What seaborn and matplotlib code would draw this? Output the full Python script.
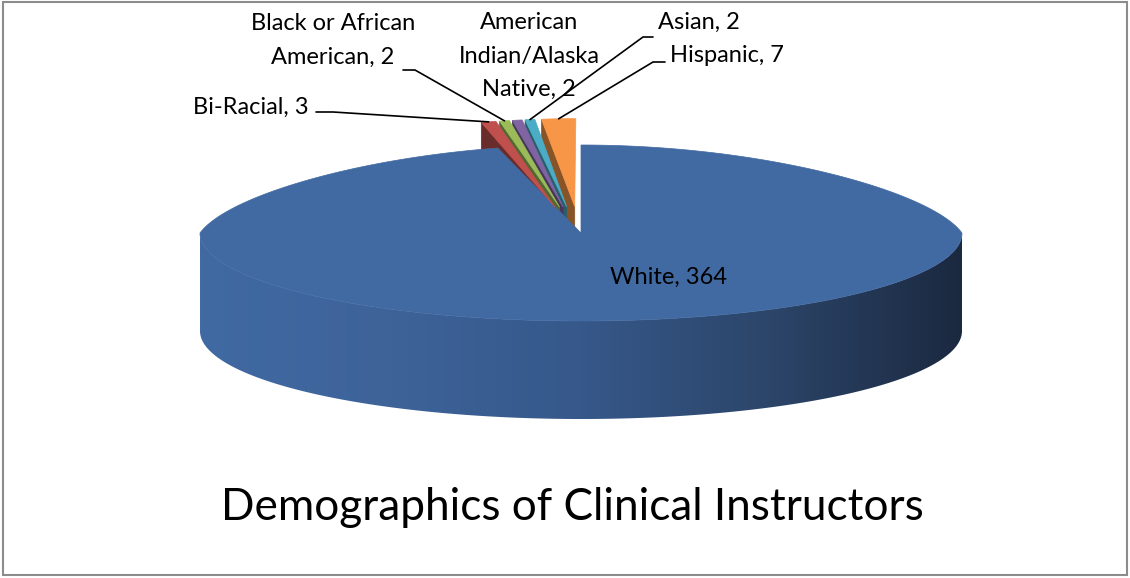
import numpy as np
import matplotlib.pyplot as plt
from matplotlib.patches import Polygon, Rectangle
from matplotlib.colors import to_rgb, ListedColormap
import seaborn as sns

sns.set_style("white")
plt.rcParams['font.family'] = ['Lato', 'DejaVu Sans']

# Data (Excel order: clockwise from 12 o'clock)
groups = ["White", "Bi-Racial", "Black or African\nAmerican",
          "American\nIndian/Alaska\nNative", "Asian", "Hispanic"]
counts = [364, 3, 2, 2, 2, 7]
colors = ["#4169a2", "#c0504d", "#9bbb59", "#8064a2", "#4bacc6", "#f79646"]
explode = [0, 0.3, 0.3, 0.3, 0.3, 0.3]
title = "Demographics of Clinical Instructors"

# Layout of the 3D pie (pixels)
cx, cy = 581, 233      # centre of top face
ra, rb = 381, 88       # ellipse semi-axes
depth = 98             # height of the side wall
persp = 0.17           # back half of the pie is drawn narrower

# label anchors: (x, y, ha) and leader polyline start (stub)
label_pos = [(669, 277, "center"), (309, 107, "right"), (333, 40, "center"),
             (529, 56, "center"), (699, 22, "center"), (727, 55, "center")]
stubs = [None, [(316, 112), (333, 112)], [(403, 70), (415, 70)], None,
         [(653, 37), (643, 37)], [(665, 62), (653, 62)]]

wall_pal = sns.blend_palette(["#4169a2", "#3d6399", "#36588a", "#2c4569", "#1b2940"], 256)


def proj(x, y, z=0.0):
    return cx + ra * x * (1 - persp * max(y, 0)), cy - rb * y + depth * z


def darker(c, f=0.6):
    return tuple(v * f for v in to_rgb(c))


fig = plt.figure(figsize=(11.3, 5.78), dpi=100)
ax = fig.add_axes([0, 0, 1, 1])
ax.set_xlim(0, 1130)
ax.set_ylim(578, 0)
ax.axis("off")

total = sum(counts)
cum = np.concatenate([[0], np.cumsum(counts)]) / total * 360
walls = []
tops = []
mids = []
for i, (n, c) in enumerate(zip(counts, colors)):
    # math angles (ccw); slices go clockwise from 90 deg
    t1 = np.radians(90 - cum[i + 1])
    t2 = np.radians(90 - cum[i])
    tm = (t1 + t2) / 2
    ox, oy = explode[i] * np.cos(tm), explode[i] * np.sin(tm)
    ts = np.linspace(t1, t2, max(int(np.degrees(t2 - t1)) * 2, 6))
    arc = [(ox + np.cos(t), oy + np.sin(t)) for t in ts]
    tops.append(Polygon([proj(ox, oy)] + [proj(*p) for p in arc], closed=True,
                        facecolor=c, edgecolor=c, lw=0.5, zorder=3))
    mids.append(proj(ox + np.cos(tm), oy + np.sin(tm)))

    # outer wall, front half only
    front = [t for t in ts if np.sin(t) <= 1e-9]
    if len(front) > 1:
        upper = [proj(ox + np.cos(t), oy + np.sin(t)) for t in front]
        lower = [proj(ox + np.cos(t), oy + np.sin(t), 1) for t in front[::-1]]
        wall = Polygon(upper + lower, closed=True, zorder=1)
        if i == 0:
            wall.set(facecolor="none", edgecolor="none")
            ax.add_patch(wall)
            x0, x1 = proj(-1, 0)[0], proj(1, 0)[0]
            im = ax.imshow(np.linspace(0, 1, 256)[None, :], cmap=ListedColormap(wall_pal),
                           extent=(x0, x1, cy + rb + depth + 5, cy - 5), aspect="auto",
                           interpolation="bilinear", zorder=1)
            im.set_clip_path(wall)
        else:
            wall.set(facecolor=darker(c, 0.7), edgecolor=darker(c, 0.7), lw=0.5)
            ax.add_patch(wall)

    # radial walls facing the viewer
    for t, vis in ((t1, np.cos(t1) > 1e-6), (t2, np.cos(t2) < -1e-6)):
        if not vis:
            continue
        rim = (ox + np.cos(t), oy + np.sin(t))
        poly = [proj(ox, oy), proj(*rim), proj(*rim, 1), proj(ox, oy, 1)]
        wc = darker(c, 0.55)
        walls.append((np.degrees(t), Polygon(poly, closed=True, facecolor=wc,
                                             edgecolor=wc, lw=0.5, zorder=2)))

for _, w in sorted(walls, key=lambda w: w[0]):
    ax.add_patch(w)
for p in tops:
    ax.add_patch(p)

# labels and leader lines
for i, g in enumerate(groups):
    x, y, ha = label_pos[i]
    ax.text(x, y, f"{g}, {counts[i]}", ha=ha, va="center", fontsize=17,
            color="black", linespacing=1.75, zorder=5)
    if stubs[i] is not None:
        pts = stubs[i] + [mids[i]]
        ax.plot([p[0] for p in pts], [p[1] for p in pts], color="black", lw=1.2, zorder=4)

ax.text(572, 508, title, ha="center", va="center", fontsize=31.8, color="black")

fig.patches.append(Rectangle((3, 3), 1124, 573, transform=None, fill=False,
                             edgecolor="#8c8c8c", lw=1.5))
fig.savefig("out.png", dpi=100)
